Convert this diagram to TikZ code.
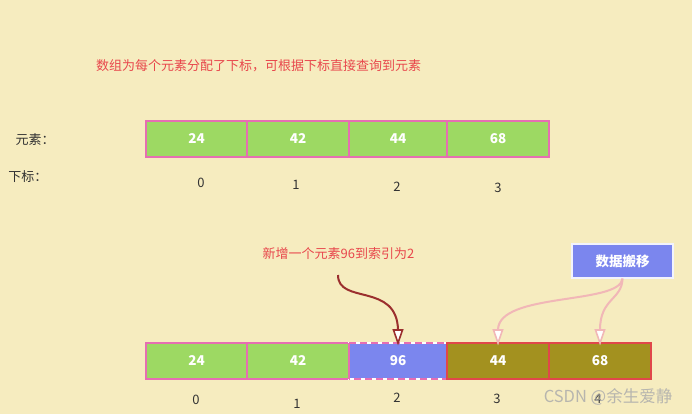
\documentclass[tikz,border=0pt]{standalone}
\usepackage{fontspec}
\setmainfont{Noto Sans CJK SC}
\usetikzlibrary{arrows.meta}
\definecolor{bg}{HTML}{F6ECBF}
\definecolor{cgreen}{HTML}{9DD963}
\definecolor{cpink}{HTML}{E66EB2}
\definecolor{colive}{HTML}{A3911F}
\definecolor{cred}{HTML}{E0474A}
\definecolor{cblue}{HTML}{7B86EE}
\definecolor{titlered}{HTML}{E8474C}
\definecolor{darkarrow}{HTML}{9B2F2E}
\definecolor{pinkarrow}{HTML}{F1B7B7}
\definecolor{idx}{HTML}{333333}
\tikzset{
  cell/.style={draw=cpink, line width=2pt, fill=cgreen, inner sep=0pt, outer sep=0pt,
    minimum height=36pt, text=white, font=\fontsize{13.5}{14}\selectfont\bfseries},
  movedcell/.style={cell, draw=cred, fill=colive},
  idxlabel/.style={text=idx, font=\fontsize{13}{14}\selectfont, inner sep=0pt},
  note/.style={text=titlered, font=\fontsize{13}{14}\selectfont, inner sep=0pt},
  sidelabel/.style={text=idx, font=\fontsize{13}{14}\selectfont, inner sep=0pt},
  opentip/.style={-{Triangle[open, width'=0pt 0.7, length=13pt, line width=1.6pt]}},
  headfill/.style={fill=white},
}
\begin{document}
\begin{tikzpicture}[x=1pt,y=-1pt]
\fill[bg] (0,0) rectangle (692,414);
\useasboundingbox (0,0) rectangle (692,414);

% title
\node[note] (title) at (258.5,66) {数组为每个元素分配了下标，可根据下标直接查询到元素};

% side labels
\node[sidelabel] (lel) at (35,140) {元素：};
\node[sidelabel] (lidx) at (28,177) {下标：};

% top row
\node[cell, minimum width=101pt] (t0) at (196.5,139) {24};
\node[cell, minimum width=102pt] (t1) at (298,139) {42};
\node[cell, minimum width=98pt]  (t2) at (398,139) {44};
\node[cell, minimum width=102pt] (t3) at (498,139) {68};

\node[idxlabel] (ti0) at (201,183) {0};
\node[idxlabel] (ti1) at (296,185) {1};
\node[idxlabel] (ti2) at (397,187) {2};
\node[idxlabel] (ti3) at (498,188) {3};

% insert note
\node[note] (ins) at (338.5,254) {新增一个元素96到索引为2};
\coordinate (insstart) at (338,275);

% move box
\node[draw=white!90!cblue, line width=1.2pt, fill=cblue, inner sep=0pt,
  minimum width=101pt, minimum height=34pt, text=white,
  font=\fontsize{13.5}{14}\selectfont\bfseries] (move) at (622.5,261) {数据搬移};

% bottom row
\node[cell, minimum width=101pt] (b0) at (196.5,361) {24};
\node[cell, minimum width=102pt] (b1) at (298,361) {42};
\node[cell, draw=none, fill=cblue, minimum width=98pt] (b2) at (398,361) {96};
\draw[white, line width=2pt] (b2.north west) rectangle (b2.south east);
\draw[cpink, line width=2pt, dash pattern=on 7pt off 4pt] (b2.north west) -- (b2.north east) -- (b2.south east) -- (b2.south west);
\draw[cpink, line width=2pt] (b2.north west) -- (b2.south west);
\node[movedcell, minimum width=102pt] (b3) at (498,361) {44};
\node[movedcell, minimum width=102pt] (b4) at (600,361) {68};

\node[idxlabel] (bi0) at (196,400) {0};
\node[idxlabel] (bi1) at (297,404) {1};
\node[idxlabel] (bi2) at (397,398) {2};
\node[idxlabel] (bi3) at (497,399) {3};
\node[idxlabel] (bi4) at (598,399) {4};

% arrows: shaft stops at the head's base, head drawn as a white triangle
\draw[darkarrow, line width=2pt]
  (insstart) .. controls (338,305) and (397,282) .. ([yshift=13pt]b2.north);
\draw[darkarrow, line width=1.6pt, fill=white, line join=miter]
  ([shift={(-4.5pt,13pt)}]b2.north) -- ([shift={(4.5pt,13pt)}]b2.north) -- (b2.north) -- cycle;
\draw[pinkarrow, line width=2pt]
  (move.south) .. controls (620,305) and (498,292) .. ([yshift=13pt]b3.north);
\draw[pinkarrow, line width=1.6pt, fill=white]
  ([shift={(-4.5pt,13pt)}]b3.north) -- ([shift={(4.5pt,13pt)}]b3.north) -- (b3.north) -- cycle;
\draw[pinkarrow, line width=2pt]
  (move.south) .. controls (622,300) and (600,298) .. ([yshift=13pt]b4.north);
\draw[pinkarrow, line width=1.6pt, fill=white]
  ([shift={(-4.5pt,13pt)}]b4.north) -- ([shift={(4.5pt,13pt)}]b4.north) -- (b4.north) -- cycle;

% watermark
\node[text=gray!65, opacity=0.85, font=\fontsize{16.5}{17}\selectfont, inner sep=0pt] (wm) at (608,397) {CSDN @余生爱静};
\end{tikzpicture}
\end{document}
